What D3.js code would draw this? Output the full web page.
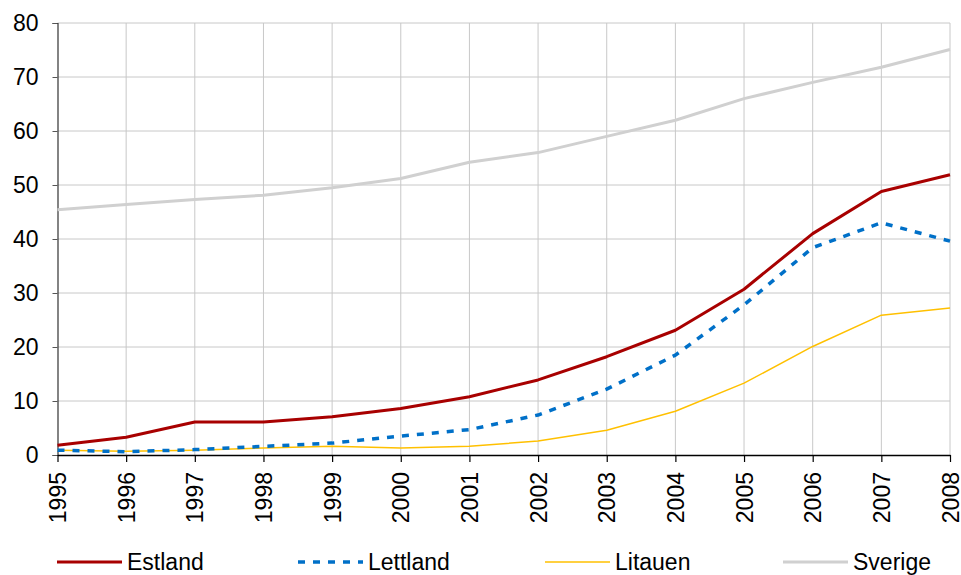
<!DOCTYPE html>
<html><head><meta charset="utf-8">
<script src="https://cdnjs.cloudflare.com/ajax/libs/d3/7.8.5/d3.min.js"></script>
<style>body{margin:0;background:#fff}svg{display:block}text{font-family:"Liberation Sans",Arial,sans-serif}</style>
</head><body><svg id="c" width="961" height="575"></svg>
<script>
const years = [1995,1996,1997,1998,1999,2000,2001,2002,2003,2004,2005,2006,2007,2008];
const estland  = [1.8,3.3,6.1,6.1,7.1,8.6,10.8,13.9,18.2,23.1,30.7,41.0,48.8,51.9];
const lettland = [0.9,0.6,1.0,1.6,2.2,3.5,4.7,7.4,12.2,18.5,27.8,38.4,43.0,39.6];
const litauen  = [0.9,0.7,0.9,1.3,1.6,1.3,1.6,2.6,4.6,8.1,13.3,20.1,25.9,27.2];
const sverige  = [45.4,46.4,47.3,48.1,49.5,51.2,54.2,56.0,59.0,62.0,66.0,69.0,71.8,75.1];
const yTicks = [0,10,20,30,40,50,60,70,80];
const seriesNames = ["Estland","Lettland","Litauen","Sverige"];

const series = [
  {name:seriesNames[0], values:estland,  color:"#a80000", width:3,   dash:null},
  {name:seriesNames[1], values:lettland, color:"#0070c8", width:3.5, dash:"7,8"},
  {name:seriesNames[2], values:litauen,  color:"#ffc000", width:1.5, dash:null},
  {name:seriesNames[3], values:sverige,  color:"#d0d0d0", width:3,   dash:null}
];

const FS = 23;
const svg = d3.select("#c");
const L=57.5, R=950, T=23, B=455;
const x = d3.scaleLinear().domain([1995,2008]).range([L,R]);
const y = d3.scaleLinear().domain([0,80]).range([B,T]);

// grid
svg.append("g").selectAll("line").data(yTicks.filter(d=>d>0)).join("line")
  .attr("x1",L).attr("x2",R).attr("y1",d=>y(d)).attr("y2",d=>y(d))
  .attr("stroke","#c8c8c8").attr("stroke-width",1);
svg.append("g").selectAll("line").data(years.slice(1)).join("line")
  .attr("x1",d=>x(d)).attr("x2",d=>x(d)).attr("y1",T).attr("y2",B)
  .attr("stroke","#c8c8c8").attr("stroke-width",1);

// y axis
const ya = svg.append("g").attr("transform",`translate(${L},0)`)
  .call(d3.axisLeft(y).tickValues(yTicks).tickSize(5).tickPadding(14).tickFormat(d3.format("d")));
ya.select(".domain").attr("stroke","#333").attr("stroke-width",1.2);
ya.selectAll(".tick line").attr("stroke","#555");
ya.selectAll("text").attr("font-size",FS).attr("fill","#000").attr("font-family","Liberation Sans, Arial, sans-serif");

// lines
const line = d3.line().x((d,i)=>x(years[i])).y(d=>y(d));
for (const s of [...series].reverse()) {
  svg.append("path").datum(s.values).attr("d",line).attr("fill","none")
    .attr("stroke",s.color).attr("stroke-width",s.width)
    .attr("stroke-dasharray",s.dash).attr("stroke-linejoin","round");
}

// x axis
const xa = svg.append("g").attr("transform",`translate(0,${B})`)
  .call(d3.axisBottom(x).tickValues(years).tickSize(7).tickSizeOuter(0).tickFormat(d3.format("d")));
xa.select(".domain").attr("stroke","#000").attr("stroke-width",1.5);
xa.selectAll(".tick line").attr("stroke","#000").attr("stroke-width",1.2);
xa.selectAll("text").attr("font-size",FS).attr("fill","#000")
  .attr("font-family","Liberation Sans, Arial, sans-serif")
  .attr("transform","rotate(-90)").attr("text-anchor","end")
  .attr("x",-17).attr("y",0).attr("dy","0.35em");

// legend
const legX = [57,298,545,783];
const lg = svg.append("g").selectAll("g").data(series).join("g")
  .attr("transform",(d,i)=>`translate(${legX[i]},562)`);
lg.append("line").attr("x1",0).attr("x2",65).attr("y1",0).attr("y2",0)
  .attr("stroke",d=>d.color).attr("stroke-width",d=>d.width).attr("stroke-dasharray",d=>d.dash);
lg.append("text").attr("x",70).attr("y",0).attr("dy","0.35em").attr("font-size",FS).text(d=>d.name);
</script></body></html>
